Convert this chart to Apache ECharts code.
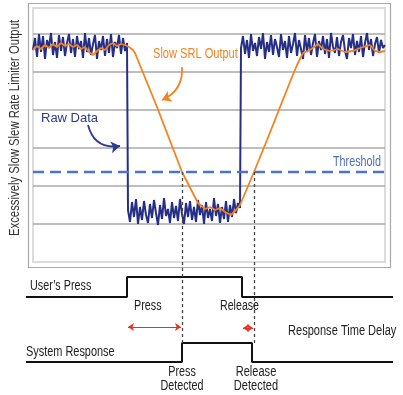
<!DOCTYPE html>
<html><head><meta charset="utf-8">
<script src="https://cdn.jsdelivr.net/npm/echarts@6/dist/echarts.min.js"></script>
<style>html,body{margin:0;padding:0;background:#fff}#c{width:403px;height:395px}</style>
</head><body><div id="c"></div>
<script>
// ---- data (y = height above panel bottom; gridlines every 38) ----
const rawStep = 2;
const rawHigh1 = [212,224,205,228,210,226,203,222,215,229,207,220,204,227,211,225,206,219,228,209,223,205,226,213,221,204,229,210,224,207,218,227,203,221,212,226,206,223,209,228,205,220,214,227,208,224,211,219];
const rawLow = [52,40,60,45,63,38,55,42,61,47,39,58,44,62,49,37,57,43,64,46,53,39,60,44,56,41,63,48,38,59,45,61,42,55,40,62,47,57,38,60,44,53,41,64,46,58,39,55,43,61,40,57,45,63,49,59,54];
const rawHigh2 = [214,226,208,222,204,228,211,219,206,225,213,229,203,220,210,227,207,223,215,205,228,212,221,204,226,209,218,229,206,222,213,203,227,210,224,207,219,228,205,221,212,226,208,223,204,229,215,209,225,206,220,227,211,203,224,214,228,207,221,210,226,205,219,229,212,223,206,218,225,209,222,214,217];
const lowStartX = 95, high2StartX = 208;
const srlX = [0,4,8,12,16,20,24,28,32,36,40,44,48,52,56,60,64,68,72,76,80,84,88,92,96,100,102,124,149,165,167,172,177,182,187,192,198,203,207,221,234,257,264,270,277,285,290,297,305,312,320,327,337,342,347,352];
const srlY = [212,216,213,217,214,218,215,219,216,218,215,217,213,215,210,207,211,214,212,217,219,216,218,217,215,212,209,155,90,59,57,53,55,52,54,50,47,52,57,90,122,180,197,209,212,218,213,211,213,210,211,214,217,211,210,211];
const threshold = 90;
const xMax = 352;
// timing diagram (y = 395 - screen y)
const pressX = [-7,94,94,209,209,360];
const pressY = [98,98,118,118,98,98];
const respX = [-7,149,149,219,219,360];
const respY = [33,33,52,52,33,33];
const detectX = [149,221];
const detectTop = 223, detectBottom = 52;
const delayArrows = [[95,148,68],[210,220,67]];
const labels = {
  yAxis: 'Excessively Slow Slew Rate Limiter Output',
  srl: 'Slow SRL Output', raw: 'Raw Data', thr: 'Threshold',
  user: 'User\u2019s Press', sys: 'System Response', press: 'Press', release: 'Release',
  pressDet: 'Press\nDetected', relDet: 'Release\nDetected', delay: 'Response Time Delay'
};

// ---- build ----
const raw = [];
rawHigh1.forEach((v,i)=>raw.push([i*rawStep, v]));
rawLow.forEach((v,i)=>raw.push([lowStartX + i*rawStep, v]));
rawHigh2.forEach((v,i)=>raw.push([high2StartX + i*rawStep, v]));
const srl = srlX.map((x,i)=>[x, srlY[i]]);
const FONT = "'Liberation Sans',Arial,sans-serif";
function txt(t, x, y, color, size, align, sx, extra) {
  return Object.assign({type:'text', x, y, scaleX: sx, style:{text:t, fill:color, font: size+'px '+FONT, textAlign:align||'left', textVerticalAlign:'middle', lineHeight:14}, z:10}, extra||{});
}
const chart = echarts.init(document.getElementById('c'), null, {renderer:'canvas'});
chart.setOption({
  animation:false,
  grid:[
    {left:33, right:18, top:8, bottom:133},
    {left:26, right:10, top:0, bottom:0}
  ],
  xAxis:[
    {gridIndex:0, type:'value', min:0, max:xMax, show:false},
    {gridIndex:1, type:'value', min:-7, max:360, show:false}
  ],
  yAxis:[
    {gridIndex:0, type:'value', min:0, max:254, interval:38, axisLine:{show:false}, axisTick:{show:false}, axisLabel:{show:false},
     splitLine:{show:true, lineStyle:{color:['rgba(0,0,0,0)','#a8a8a8','#a8a8a8','#a8a8a8','#a8a8a8','#a8a8a8','#a8a8a8'], width:1.5}}},
    {gridIndex:1, type:'value', min:0, max:395, show:false, splitLine:{show:false}}
  ],
  graphic:[
    {type:'rect', shape:{x:28.5,y:3.5,width:362,height:264}, style:{fill:'none', stroke:'#a9a9a9', lineWidth:1.2}, z:-1},
    {type:'rect', shape:{x:33,y:8,width:352,height:254}, style:{fill:'none', stroke:'#dcdcdc', lineWidth:2}, z:-1},
    txt(labels.yAxis, 15, 128, '#333', 14, 'center', 0.81, {rotation:Math.PI/2}),
    txt(labels.srl, 153, 54, '#f5821f', 14, 'left', 0.79),
    txt(labels.raw, 41, 118, '#2b3990', 13, 'left', 1),
    txt(labels.thr, 333, 162, '#4d6fb8', 14, 'left', 0.77),
    txt(labels.user, 30, 286, '#222', 14, 'left', 0.77),
    txt(labels.press, 134, 306, '#222', 14, 'left', 0.77),
    txt(labels.release, 220, 306, '#222', 14, 'left', 0.76),
    txt(labels.sys, 26, 352, '#222', 14, 'left', 0.78),
    txt(labels.pressDet, 182, 379, '#222', 14, 'center', 0.77),
    txt(labels.relDet, 256, 379, '#222', 14, 'center', 0.79),
    txt(labels.delay, 288, 331, '#222', 14, 'left', 0.79)
  ],
  series:[
    {type:'line', xAxisIndex:0, yAxisIndex:0, data:raw, showSymbol:false, lineStyle:{color:'#262f86', width:2}, z:2},
    {type:'line', xAxisIndex:0, yAxisIndex:0, data:[[0,threshold],[xMax,threshold]], showSymbol:false, lineStyle:{color:'#4d74c5', width:2.5, type:[11,6]}, z:3},
    {type:'line', xAxisIndex:0, yAxisIndex:0, data:srl, showSymbol:false, lineStyle:{color:'#f5821f', width:1.8}, z:4},
    {type:'line', xAxisIndex:1, yAxisIndex:1, data:pressX.map((x,i)=>[x,pressY[i]]), showSymbol:false, lineStyle:{color:'#111', width:2}, z:4},
    {type:'line', xAxisIndex:1, yAxisIndex:1, data:respX.map((x,i)=>[x,respY[i]]), showSymbol:false, lineStyle:{color:'#111', width:2}, z:4},
    {type:'lines', coordinateSystem:'cartesian2d', xAxisIndex:1, yAxisIndex:1, z:5,
     data: detectX.map(x=>({coords:[[x,detectTop],[x,detectBottom]]})),
     lineStyle:{color:'#444', width:1.3, type:[3,3], opacity:1}, symbol:'none'},
    {type:'lines', coordinateSystem:'cartesian2d', xAxisIndex:1, yAxisIndex:1, z:5,
     data: delayArrows.map(a=>({coords:[[a[0],a[2]],[a[1],a[2]]]})),
     lineStyle:{color:'#e8321e', width:1.2, opacity:1}, symbol:['arrow','arrow'], symbolSize:6},
    {type:'lines', coordinateSystem:'cartesian2d', xAxisIndex:1, yAxisIndex:1, z:5,
     data:[{coords:[[149,328],[129,295]], lineStyle:{color:'#f5821f', curveness:0.35}},
           {coords:[[55,270],[87,249]], lineStyle:{color:'#2b3990', curveness:-0.45}}],
     lineStyle:{width:1.8, opacity:1}, symbol:['none','arrow'], symbolSize:9}
  ]
});
</script></body></html>
